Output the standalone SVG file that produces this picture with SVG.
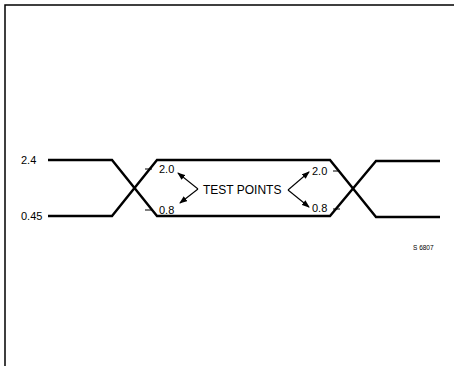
<svg xmlns="http://www.w3.org/2000/svg" width="454" height="366" viewBox="0 0 454 366">
<defs>
<marker id="ah" markerWidth="8" markerHeight="6" refX="7" refY="3" orient="auto" markerUnits="userSpaceOnUse">
<path d="M0,0 L8,3 L0,6 Z" fill="#000"/>
</marker>
<style>
.sig{fill:none;stroke:#000;stroke-width:2.4;stroke-linejoin:miter}
.thin{fill:none;stroke:#000;stroke-width:1.1}
.frame{fill:none;stroke:#000;stroke-width:1.5}
text{font-family:"Liberation Sans",Arial,sans-serif;fill:#000}
.lbl{font-size:11px}
.tp{font-size:12px}
.ref{font-size:6.5px}
</style>
</defs>
<rect width="454" height="366" fill="#fff"/>
<path class="frame" d="M5,366 L5,5 L454,5"/>
<g id="waveform">
<path class="sig" d="M48,160 L112,160 L157,216 L330,216 L376,161 L440,161"/>
<path class="sig" d="M48,216 L112,216 L157,160 L330,160 L376,217 L440,217"/>
</g>
<g id="ticks">
<path class="thin" d="M145,169 L152,169 M145,210 L152,210 M333,171 L340,171 M333,209 L340,209"/>
</g>
<g id="labels">
<text class="lbl" x="21" y="164">2.4</text>
<text class="lbl" x="21" y="220">0.45</text>
<text class="lbl" x="159" y="173">2.0</text>
<text class="lbl" x="159" y="214">0.8</text>
<text class="lbl" x="312" y="175">2.0</text>
<text class="lbl" x="312" y="212">0.8</text>
<text class="tp" x="203" y="194">TEST POINTS</text>
<text class="ref" x="413" y="250">S 6807</text>
</g>
<g id="connectors">
<path class="thin" d="M198,189 L178,173" marker-end="url(#ah)"/>
<path class="thin" d="M198,189 L180,203" marker-end="url(#ah)"/>
<path class="thin" d="M288,190 L309,172" marker-end="url(#ah)"/>
<path class="thin" d="M288,190 L309,207" marker-end="url(#ah)"/>
</g>
</svg>
